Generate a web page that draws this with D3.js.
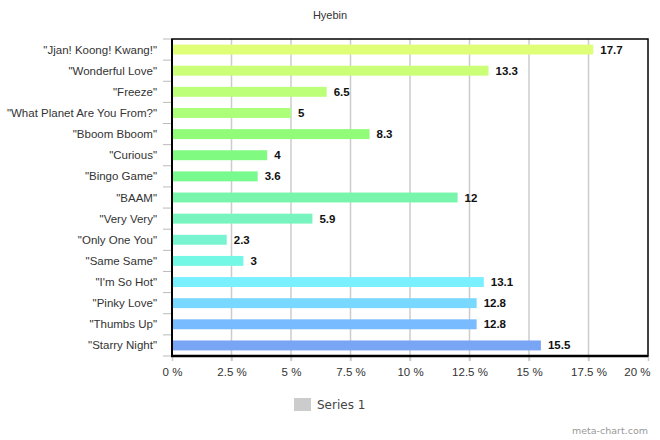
<!DOCTYPE html>
<html><head><meta charset="utf-8">
<script src="https://cdn.jsdelivr.net/npm/d3@7"></script>
<style>body{margin:0;background:#fff}svg{display:block}</style>
</head><body>
<script>
const title = "Hyebin";
const categories = ["\"Jjan! Koong! Kwang!\"","\"Wonderful Love\"","\"Freeze\"","\"What Planet Are You From?\"","\"Bboom Bboom\"","\"Curious\"","\"Bingo Game\"","\"BAAM\"","\"Very Very\"","\"Only One You\"","\"Same Same\"","\"I'm So Hot\"","\"Pinky Love\"","\"Thumbs Up\"","\"Starry Night\""];
const values = [17.7,13.3,6.5,5,8.3,4,3.6,12,5.9,2.3,3,13.1,12.8,12.8,15.5];
const barColors = ["#dfff78","#ccff78","#bcff78","#acff78","#90fc78","#80fa80","#78fa8e","#78f5aa","#78f5bf","#78f5d0","#74f8e6","#78f0ff","#78d8ff","#78bcff","#78a6f5"];
const xTicks = [0,2.5,5,7.5,10,12.5,15,17.5,20];
const seriesName = "Series 1";

const W=660,H=440;
const m={left:172,right:12,top:39,bottom:84};
const svg=d3.select("body").append("svg").attr("width",W).attr("height",H);
const x=d3.scaleLinear().domain([0,20]).range([m.left,W-m.right]);
const y=d3.scaleBand().domain(categories).range([m.top,H-m.bottom]).paddingInner(0.53).paddingOuter(0.265);
const font="Liberation Sans, Arial, sans-serif";

svg.append("text").attr("x",330).attr("y",19).attr("text-anchor","middle")
  .attr("font-family",font).attr("font-size",11).attr("fill","#333").text(title);

// grid lines
svg.append("g").selectAll("line").data(xTicks.slice(1,-1)).join("line")
  .attr("x1",d=>x(d)).attr("x2",d=>x(d)).attr("y1",m.top).attr("y2",H-m.bottom+5)
  .attr("stroke","#ccc").attr("stroke-width",1.5);

// x axis
const xa=svg.append("g").attr("transform",`translate(0,${H-m.bottom})`)
  .call(d3.axisBottom(x).tickValues(xTicks).tickSize(5).tickPadding(7).tickFormat(d=>d+" %"));
xa.select(".domain").remove();
xa.selectAll("line").attr("stroke","#ccc").attr("stroke-width",1.5);
xa.selectAll("text").attr("font-family",font).attr("font-size",11.5).attr("fill","#333");
xa.selectAll(".tick").filter(d=>d===20).select("text").attr("text-anchor","end").attr("dx",2);

// y axis ticks (band boundaries)
const bounds=categories.map(c=>y(c)-y.step()*y.paddingInner()/2).concat([H-m.bottom]);
svg.append("g").selectAll("line").data(bounds).join("line")
  .attr("x1",m.left-9).attr("x2",m.left).attr("y1",d=>d).attr("y2",d=>d)
  .attr("stroke","#bbb").attr("stroke-width",1);
svg.append("g").selectAll("text").data(categories).join("text")
  .attr("x",m.left-15).attr("y",d=>y(d)+y.bandwidth()/2).attr("dy","0.35em")
  .attr("text-anchor","end").attr("font-family",font).attr("font-size",11.5).attr("fill","#333").text(d=>d);

// bars
svg.append("g").selectAll("rect").data(values).join("rect")
  .attr("x",x(0)).attr("y",(d,i)=>y(categories[i])).attr("width",d=>x(d)-x(0))
  .attr("height",y.bandwidth()).attr("fill",(d,i)=>barColors[i]);
svg.append("g").selectAll("text").data(values).join("text")
  .attr("x",d=>x(d)+7).attr("y",(d,i)=>y(categories[i])+y.bandwidth()/2).attr("dy","0.35em")
  .attr("font-family",font).attr("font-size",11.5).attr("font-weight","bold").attr("fill","#111").text(d=>d);

// frame
svg.append("rect").attr("x",m.left).attr("y",m.top).attr("width",W-m.right-m.left).attr("height",H-m.bottom-m.top)
  .attr("fill","none").attr("stroke","#000").attr("stroke-width",1.5);
svg.append("line").attr("x1",m.left).attr("x2",m.left).attr("y1",m.top).attr("y2",H-m.bottom+1).attr("stroke","#000").attr("stroke-width",2);
svg.append("line").attr("x1",m.left-1).attr("x2",W-m.right).attr("y1",H-m.bottom).attr("y2",H-m.bottom).attr("stroke","#000").attr("stroke-width",2.5);

// legend
svg.append("rect").attr("x",294).attr("y",398).attr("width",17).attr("height",13).attr("fill","#ccc");
svg.append("text").attr("x",317).attr("y",409).attr("font-family","DejaVu Sans, sans-serif").attr("font-size",12).attr("fill","#444").text(seriesName);

svg.append("text").attr("x",648).attr("y",434).attr("text-anchor","end").attr("font-family","DejaVu Sans, sans-serif")
  .attr("font-size",9.5).attr("fill","#999").text("meta-chart.com");
</script>
</body></html>
